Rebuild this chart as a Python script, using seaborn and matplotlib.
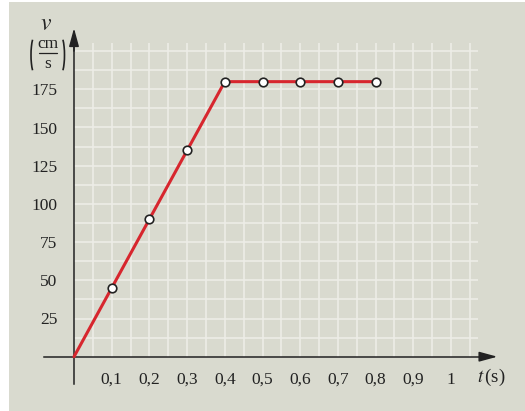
import matplotlib
matplotlib.use("Agg")
import matplotlib.pyplot as plt
import seaborn as sns
import numpy as np
import pandas as pd
from matplotlib.patches import Rectangle, Arc
from matplotlib.lines import Line2D

# Data
t_line = [0.0, 0.1, 0.2, 0.3, 0.4, 0.5, 0.6, 0.7, 0.8]
v_line = [0, 45, 90, 135, 180, 180, 180, 180, 180]
t_pts = [0.1, 0.2, 0.3, 0.4, 0.5, 0.6, 0.7, 0.8]
v_pts = [45, 90, 135, 180, 180, 180, 180, 180]
x_ticks = [0.1, 0.2, 0.3, 0.4, 0.5, 0.6, 0.7, 0.8, 0.9, 1.0]
x_labels = ["0,1", "0,2", "0,3", "0,4", "0,5", "0,6", "0,7", "0,8", "0,9", "1"]
y_ticks = [25, 50, 75, 100, 125, 150, 175, 200]
y_labels = ["25", "50", "75", "100", "125", "150", "175", ""]

sns.set_style("white")
plt.rcParams["font.family"] = ["Liberation Serif", "DejaVu Serif"]
plt.rcParams["mathtext.fontset"] = "stix"

BG = "#d9dacf"
GRID = "#eeeee8"
RED = "#d7262e"
DARK = "#222222"
W, H = 525, 411

fig = plt.figure(figsize=(5.25, 4.11), dpi=100)
fig.patch.set_facecolor("white")
fig.patches.append(Rectangle((9 / W, 0), 1 - 9 / W, 1 - 2 / H,
                             transform=fig.transFigure, facecolor=BG,
                             edgecolor="none", zorder=-10))
ax = fig.add_axes([0, 0, 1, 1])
ax.set_facecolor("none")

# pixel mapping: x=0 at px 74, 0.1 per 37.7px ; y=0 at px 356.7, 25 per 38.2px
px_x = 0.1 / 37.7
px_y = 25 / 38.2
ax.set_xlim(-74 * px_x, (W - 74) * px_x)
ax.set_ylim(-(H - 356.7) * px_y, 356.7 * px_y)

# grid
gx = np.arange(0.05, 1.051, 0.05)
gy = np.arange(12.5, 200.1, 12.5)
ax.vlines(gx, 0, 205, color=GRID, lw=1.1, zorder=1)
ax.hlines(gy, 0, 1.072, color=GRID, lw=1.1, zorder=1)

# axes via spines
for s in ["top", "right"]:
    ax.spines[s].set_visible(False)
ax.spines["left"].set_position(("data", 0))
ax.spines["bottom"].set_position(("data", 0))
ax.spines["left"].set_bounds(-18, 206)
ax.spines["bottom"].set_bounds(-0.08, 1.10)
for s in ["left", "bottom"]:
    ax.spines[s].set_color(DARK)
    ax.spines[s].set_linewidth(1.1)
    ax.spines[s].set_zorder(3)

# arrowheads
ax.annotate("", xy=(1.123, 0), xytext=(1.09, 0),
            arrowprops=dict(arrowstyle="-|>,head_length=1.1,head_width=0.3",
                            color=DARK, lw=1.1, shrinkA=0, shrinkB=0), zorder=4)
ax.annotate("", xy=(0, 215), xytext=(0, 200),
            arrowprops=dict(arrowstyle="-|>,head_length=1.1,head_width=0.3",
                            color=DARK, lw=1.1, shrinkA=0, shrinkB=0), zorder=4)

ax.set_xticks(x_ticks)
ax.set_xticklabels(x_labels)
ax.set_yticks(y_ticks)
ax.set_yticklabels(y_labels)
ax.tick_params(axis="x", direction="out", length=7, width=1.1, color="#444444",
               pad=4, labelsize=12.5, labelcolor=DARK)
ax.tick_params(axis="y", direction="out", length=7, width=1.1, color="#444444",
               pad=5, labelsize=12.5, labelcolor=DARK)

# data
df_line = pd.DataFrame({"t": t_line, "v": v_line})
df_pts = pd.DataFrame({"t": t_pts, "v": v_pts})
sns.lineplot(data=df_line, x="t", y="v", ax=ax, color=RED, lw=2.2, zorder=5)
sns.scatterplot(data=df_pts, x="t", y="v", ax=ax, s=38, color="white",
                edgecolor=DARK, linewidth=1.2, zorder=6)
ax.set_xlabel("")
ax.set_ylabel("")

# axis labels
def fx(p):
    return p / W

def fy(p):
    return 1 - p / H

fig.text(fx(46.5), fy(24), r"$v$", fontsize=17, ha="center", va="center",
         color=DARK)
fig.text(fx(47.7), fy(44), "cm", fontsize=12.5, ha="center", va="center",
         color=DARK)
fig.text(fx(47.7), fy(64), "s", fontsize=12.5, ha="center", va="center",
         color=DARK)
fig.lines.append(Line2D([fx(38.5), fx(57)], [fy(53.3), fy(53.3)],
                        transform=fig.transFigure, color=DARK, lw=0.9))
fig.patches.append(Arc((fx(36), fy(55)), 10 / W, 42 / H, theta1=100,
                       theta2=260, transform=fig.transFigure, color=DARK,
                       lw=1.2))
fig.patches.append(Arc((fx(59.5), fy(55)), 10 / W, 42 / H, theta1=-80,
                       theta2=80, transform=fig.transFigure, color=DARK,
                       lw=1.2))
fig.text(fx(477), fy(377), r"$t\,$(s)", fontsize=13.5, ha="left",
         va="center", color=DARK)

fig.savefig("out.png", dpi=100)
